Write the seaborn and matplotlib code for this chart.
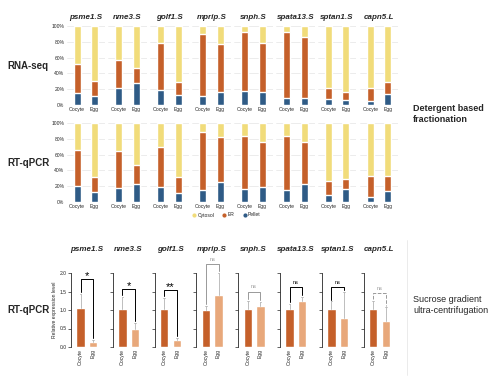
import matplotlib
matplotlib.use('Agg')
import matplotlib.pyplot as plt
import seaborn as sns
import pandas as pd
from matplotlib.lines import Line2D

genes = ['psme1.S', 'nme3.S', 'golf1.S', 'mprip.S', 'snph.S', 'spata13.S', 'sptan1.S', 'capn5.L']
samples = ['Oocyte', 'Egg']

# fractionation, percent of total (Oocyte, Egg) per gene
rna_pellet = [[15.5, 12], [22, 28], [19, 12.5], [12, 16.5], [17.5, 16], [9, 9], [7.5, 6.5], [4.5, 14]]
rna_er = [[36, 18], [35, 19], [59, 16.5], [78, 60.5], [74.5, 63], [84, 77], [14, 10], [17.5, 15.5]]
qpcr_pellet = [[20, 13], [18, 23], [19.5, 12], [15, 25.5], [16.5, 19], [15, 22.5], [8.5, 16.5], [6, 14]]
qpcr_er = [[46, 19], [47, 24], [49.5, 20], [74, 56.5], [67.5, 57], [68, 53.5], [17.5, 12.5], [27, 19]]

# sucrose gradient, relative expression level (Oocyte, Egg)
rel_expr = [[1.05, 0.14], [1.02, 0.48], [1.02, 0.18], [1.0, 1.41], [1.03, 1.12], [1.02, 1.25], [1.02, 0.79], [1.03, 0.69]]
rel_err = [[0.38, 0.04], [0.34, 0.16], [0.30, 0.07], [0.11, 0.59], [0.22, 0.09], [0.14, 0.11], [0.21, 0.71], [0.22, 0.38]]
sig_labels = ['*', '*', '**', 'ns', 'ns', 'ns', 'ns', 'ns']
sig_height = [1.84, 1.56, 1.55, 2.23, 1.50, 1.61, 1.61, 1.45]

yellow = '#F1DC7A'
orange = '#C5602A'
blue = '#2F5B86'
light = '#E8A87B'

sns.set_style('white')
plt.rcParams['font.family'] = ['Liberation Sans', 'DejaVu Sans']

fig = plt.figure(figsize=(5, 3.8), dpi=100)


def box(x0, y0, w, h):
    return [x0 / 500, 1 - (y0 + h) / 380, w / 500, h / 380]


def stacked_row(pellet, er, top, first_title):
    for i, g in enumerate(genes):
        c = 77 + 41.9 * i
        ax = fig.add_axes(box(c - 10.5, top, 38.5, 79))
        df = pd.DataFrame({'sample': samples,
                           'total': [100, 100],
                           'er': [er[i][0] + pellet[i][0], er[i][1] + pellet[i][1]],
                           'pellet': pellet[i]})
        sns.barplot(data=df, x='sample', y='total', color=yellow, width=0.4, ax=ax, saturation=1)
        sns.barplot(data=df, x='sample', y='er', color=orange, width=0.4, ax=ax, saturation=1)
        sns.barplot(data=df, x='sample', y='pellet', color=blue, width=0.4, ax=ax, saturation=1)
        ax.set_xlim(-0.6, 1.6)
        ax.set_ylim(0, 100)
        ax.set_yticks([0, 20, 40, 60, 80, 100])
        ax.yaxis.grid(True, color='#e4e4e4', lw=0.5)
        ax.set_axisbelow(True)
        if i == 0:
            ax.set_yticklabels(['0%', '20%', '40%', '60%', '80%', '100%'])
        else:
            ax.set_yticklabels([])
        ax.tick_params(length=0, labelsize=3.6, pad=1.5)
        ax.set_xlabel('')
        ax.set_ylabel('')
        sns.despine(ax=ax, left=True, bottom=True)
        if first_title:
            ax.set_title(g, fontsize=5.8, fontstyle='italic', fontweight='bold', pad=5)


stacked_row(rna_pellet, rna_er, 26, True)
stacked_row(qpcr_pellet, qpcr_er, 123, False)

handles = [Line2D([], [], marker='o', ls='', color=yellow, markersize=2),
           Line2D([], [], marker='o', ls='', color=orange, markersize=2),
           Line2D([], [], marker='o', ls='', color=blue, markersize=2)]
fig.legend(handles, ['Cytosol', 'ER', 'Pellet'], loc='center', bbox_to_anchor=(226 / 500, 1 - 215 / 380),
           ncol=3, frameon=False, fontsize=3.6, handletextpad=0.2, columnspacing=1.5, handlelength=1)

# sucrose gradient row
for i, g in enumerate(genes):
    c = 80.5 + 41.8 * i
    ax = fig.add_axes(box(c - 9.5, 273, 31, 74))
    df = pd.DataFrame({'sample': samples, 'value': rel_expr[i]})
    sns.barplot(data=df, x='sample', y='value', hue='sample', palette=[orange, light],
                width=0.66, ax=ax, saturation=1, legend=False)
    for j in range(2):
        v = rel_expr[i][j]
        e = rel_err[i][j]
        ax.plot([j, j], [v, v + e], color='#b3b3b3', lw=0.6, clip_on=False)
        ax.plot([j - 0.06, j + 0.06], [v + e, v + e], color='#b3b3b3', lw=0.6, clip_on=False)
    h = sig_height[i]
    col = 'black' if sig_labels[i] != 'ns' or i in (5, 6) else '#999999'
    ls = '--' if i == 7 else '-'
    ax.plot([0, 0, 1, 1],
            [rel_expr[i][0] + rel_err[i][0] + 0.05, h, h, rel_expr[i][1] + rel_err[i][1] + 0.05],
            color=col, lw=0.7, ls=ls, clip_on=False)
    if sig_labels[i] == 'ns':
        ax.text(0.5, h + 0.06, 'ns', ha='center', va='bottom', fontsize=4, color=col)
    else:
        ax.text(0.5, h - 0.06, sig_labels[i], ha='center', va='bottom', fontsize=8, color=col)
    ax.set_xlim(-0.76, 1.7)
    ax.set_ylim(0, 2.0)
    ax.set_yticks([0, 0.5, 1.0, 1.5, 2.0])
    if i == 0:
        ax.set_yticklabels(['0.0', '0.5', '1.0', '1.5', '2.0'])
        ax.set_ylabel('Relative expression level', fontsize=3.6, labelpad=2)
    else:
        ax.set_yticklabels([])
        ax.set_ylabel('')
    ax.set_xlabel('')
    ax.tick_params(axis='y', length=2, width=0.5, labelsize=3.6, pad=1, left=True)
    ax.tick_params(axis='x', length=0, labelsize=3.6, pad=1.5, rotation=90)
    sns.despine(ax=ax, bottom=True)
    ax.spines['left'].set_linewidth(0.6)
    ax.set_title(g, fontsize=5.8, fontstyle='italic', fontweight='bold', pad=16)

fig.text(7 / 500, 1 - 66 / 380, 'RNA-seq', fontsize=7, fontweight='bold', va='center')
fig.text(7 / 500, 1 - 163 / 380, 'RT-qPCR', fontsize=7, fontweight='bold', va='center')
fig.text(7 / 500, 1 - 310 / 380, 'RT-qPCR', fontsize=7, fontweight='bold', va='center')
fig.text(413 / 500, 1 - 114 / 380, 'Detergent based\nfractionation', fontsize=6.5, fontweight='bold',
         va='center', linespacing=1.2)
fig.text(413 / 500, 1 - 305 / 380, 'Sucrose gradient\nultra-centrifugation', fontsize=6.5,
         va='center', linespacing=1.2)
fig.add_artist(Line2D([407 / 500, 407 / 500], [1 - 240 / 380, 1 - 375 / 380], color='#e8e8e8', lw=0.6))

plt.savefig('out.png', dpi=100)
